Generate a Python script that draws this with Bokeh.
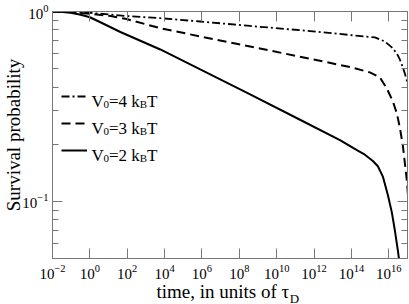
import numpy as np
from bokeh.plotting import figure
from bokeh.models import (LogAxis, FixedTicker, Label, Legend, LegendItem,
                          Range1d, CustomJSTickFormatter, LogTickFormatter)
from bokeh.embed import file_html
from bokeh.resources import INLINE
from bokeh.core.properties import value

# ---- data (time exponents are log10 of t / tau_D) ----
v4_log_t = [-2.0, 0.030, 1.906, 3.769, 5.906, 8.577, 11.782, 13.919, 15.254, 15.788,
            16.162, 16.429, 16.590, 16.750, 16.857, 16.964, 17.071]
v4_surv = [1.000, 0.984, 0.947, 0.922, 0.886, 0.839, 0.789, 0.752, 0.730, 0.695,
           0.647, 0.601, 0.559, 0.508, 0.472, 0.433, 0.384]

v3_log_t = [-2.0, -1.038, 0.030, 1.098, 1.906, 3.769, 5.906, 8.577, 11.782, 13.919,
            14.987, 15.521, 15.895, 16.216, 16.429, 16.590, 16.750, 16.857, 16.964, 17.071]
v3_surv = [1.000, 0.994, 0.972, 0.947, 0.915, 0.817, 0.739, 0.654, 0.564, 0.510,
           0.478, 0.450, 0.393, 0.336, 0.291, 0.245, 0.197, 0.160, 0.129, 0.0953]

v2_log_t = [-2.0, -1.466, -1.038, -0.611, -0.237, 0.030, 0.564, 1.632, 3.769, 5.906,
            8.577, 11.248, 13.385, 14.293, 14.720, 15.148, 15.415, 15.682, 15.949,
            16.162, 16.323, 16.483, 16.590]
v2_surv = [1.000, 0.994, 0.984, 0.967, 0.946, 0.930, 0.878, 0.780, 0.631, 0.495,
           0.366, 0.269, 0.210, 0.186, 0.176, 0.163, 0.153, 0.135, 0.108,
           0.0875, 0.0704, 0.0552, 0.0460]

series_v0 = ["4", "3", "2"]

# tick values (labels are 10^n, formatted by Bokeh's log formatter)
x_ticks = [1e-2, 1e0, 1e2, 1e4, 1e6, 1e8, 1e10, 1e12, 1e14, 1e16]
y_ticks = [0.1, 1.0]
y_minor = [0.06, 0.07, 0.08, 0.09, 0.2, 0.3, 0.4, 0.5, 0.6, 0.7, 0.8, 0.9]
x_lo, x_hi = 1e-2, 1e17
y_lo, y_hi = 0.05, 1.0

x_title = "time, in units of \u03c4"
x_title_sub = "D"
y_title = "Survival probability"

# ---- style ----
FONT = "Liberation Serif"
AX = "#777777"

p = figure(width=409, height=304, x_axis_type="log", y_axis_type="log",
           x_range=Range1d(x_lo, x_hi), y_range=Range1d(y_lo, y_hi),
           output_backend="svg", toolbar_location=None,
           min_border_left=52, min_border_right=2, min_border_top=11,
           min_border_bottom=45)
p.xgrid.visible = False
p.ygrid.visible = False
p.outline_line_color = AX
p.background_fill_color = "white"
p.border_fill_color = "white"

t4 = np.power(10.0, v4_log_t)
t3 = np.power(10.0, v3_log_t)
t2 = np.power(10.0, v2_log_t)

r4 = p.line(t4, v4_surv, line_color="black", line_width=1.8, line_dash="8 3 2 3")
r3 = p.line(t3, v3_surv, line_color="black", line_width=2, line_dash="9 5")
r2 = p.line(t2, v2_surv, line_color="black", line_width=2)


def style(ax, labels=True, standoff=4):
    ax.axis_line_color = AX
    ax.major_tick_line_color = AX
    ax.minor_tick_line_color = AX
    ax.major_tick_in = 10
    ax.major_tick_out = 0
    ax.minor_tick_in = 6
    ax.minor_tick_out = 0
    if labels:
        ax.formatter = LogTickFormatter()
        ax.major_label_text_font = FONT
        ax.major_label_text_font_size = "15px"
        ax.major_label_text_color = "black"
        ax.major_label_standoff = standoff
        ax.axis_label_text_font = FONT
        ax.axis_label_text_font_size = "19px"
        ax.axis_label_text_font_style = "normal"
        ax.axis_label_text_color = "black"
    else:
        ax.axis_label = None
        ax.formatter = CustomJSTickFormatter(code="return ''")
        ax.major_label_standoff = 0
        ax.major_label_text_font_size = "0px"


p.xaxis[0].ticker = FixedTicker(ticks=x_ticks, minor_ticks=[])
p.yaxis[0].ticker = FixedTicker(ticks=y_ticks, minor_ticks=y_minor)
style(p.xaxis[0], standoff=6)
style(p.yaxis[0])
p.xaxis[0].axis_label = None
p.yaxis[0].axis_label = y_title
p.yaxis[0].axis_label_standoff = -5

top = LogAxis(ticker=FixedTicker(ticks=x_ticks, minor_ticks=[]))
right = LogAxis(ticker=FixedTicker(ticks=y_ticks, minor_ticks=y_minor))
style(top, False)
style(right, False)
p.add_layout(top, "above")
p.add_layout(right, "right")

# second, invisible bottom axis: carries the x title and its subscript "D"
# (the subscript is that axis' single tick label, placed just after the tau)
d_pos = 10 ** 10.95
title_axis = LogAxis(ticker=FixedTicker(ticks=[d_pos], minor_ticks=[]),
                     formatter=CustomJSTickFormatter(args=dict(sub=x_title_sub),
                                                     code="return sub"),
                     axis_line_color=None, major_tick_line_color=None,
                     minor_tick_line_color=None, major_tick_in=0, major_tick_out=0,
                     minor_tick_in=0, minor_tick_out=0,
                     major_label_standoff=9, major_label_text_font=FONT,
                     major_label_text_font_size="13px", major_label_text_color="black",
                     axis_label=x_title + "\u00a0\u00a0\u00a0",
                     axis_label_text_font=FONT, axis_label_text_font_size="19px",
                     axis_label_text_font_style="normal", axis_label_text_color="black",
                     axis_label_standoff=-28)
p.add_layout(title_axis, "below")

# legend (line samples) - labels drawn separately to allow subscripts
legend = Legend(items=[LegendItem(label=value(" "), renderers=[r]) for r in (r4, r3, r2)],
                location=(9, 98), glyph_width=26, glyph_height=20, label_height=20,
                label_width=1, spacing=7, padding=0, margin=0, label_standoff=0,
                background_fill_alpha=0, border_line_alpha=0,
                label_text_font_size="1px")
p.add_layout(legend)


def lab(text, x, y, xo, yo, size):
    p.add_layout(Label(x=x, y=y, x_offset=xo, y_offset=yo, text=text,
                       text_font=FONT, text_font_size=size, text_color="black",
                       text_baseline="alphabetic", text_align="left"))


# legend texts
base = [89.5, 116.5, 143.5]
for v0, b in zip(series_v0, base):
    x0 = 39
    lab("V", x_lo, y_hi, x0, -b, "17px")
    lab("0", x_lo, y_hi, x0 + 12.0, -b - 3, "11px")
    lab("=" + v0 + " k", x_lo, y_hi, x0 + 17.5, -b, "17px")
    lab("B", x_lo, y_hi, x0 + 48.3, -b - 3, "11px")
    lab("T", x_lo, y_hi, x0 + 55.6, -b, "17px")

open("out.html", "w").write(file_html(p, INLINE))
